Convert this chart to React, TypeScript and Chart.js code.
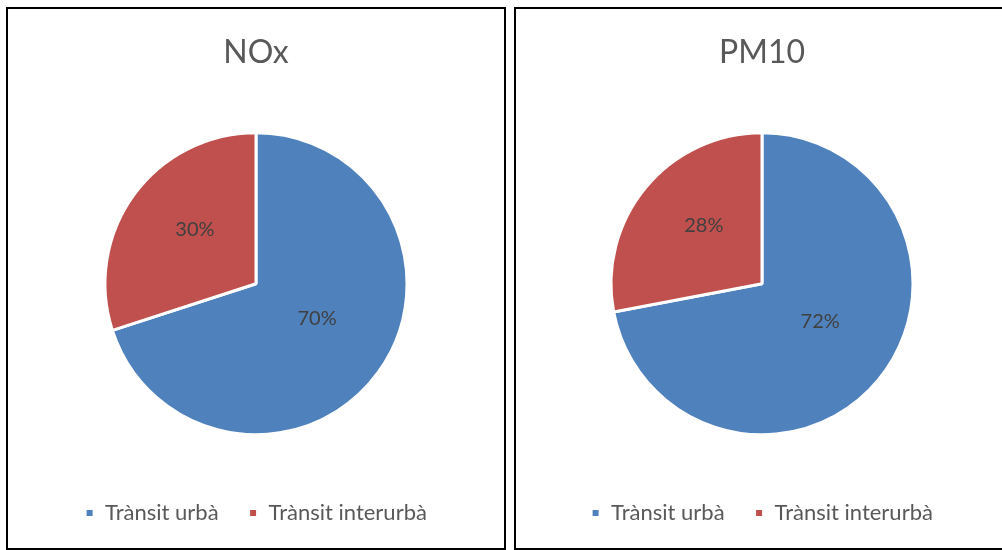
import React, { useEffect, useRef } from "react";
import { Chart, registerables } from "chart.js";

Chart.register(...registerables);

const categories = ["Trànsit urbà", "Trànsit interurbà"];
const noxValues = [70, 30];
const pm10Values = [72, 28];
const titles = ["NOx", "PM10"];
const colors = ["#4F81BD", "#C0504D"];

const FONT = "Lato, 'Noto Sans', sans-serif";

const labelPlugin = {
  id: "pieLabels",
  afterDatasetsDraw(chart: any) {
    const ctx = chart.ctx;
    const meta = chart.getDatasetMeta(0);
    const data = chart.data.datasets[0].data as number[];
    const total = data.reduce((a, b) => a + b, 0);
    ctx.save();
    ctx.font = `20px ${FONT}`;
    ctx.fillStyle = "#404040";
    ctx.textAlign = "center";
    ctx.textBaseline = "middle";
    meta.data.forEach((arc: any, i: number) => {
      const p = arc.getProps(["x", "y", "startAngle", "endAngle", "outerRadius"], true);
      const mid = (p.startAngle + p.endAngle) / 2;
      const r = p.outerRadius * 0.5;
      const x = p.x + Math.cos(mid) * r;
      const y = p.y + Math.sin(mid) * r - 10;
      ctx.fillText(Math.round((data[i] / total) * 100) + "%", x, y);
    });
    ctx.restore();
  },
};

function PieChart({ title, values }: { title: string; values: number[] }) {
  const ref = useRef<HTMLCanvasElement>(null);
  useEffect(() => {
    if (!ref.current) return;
    const chart = new Chart(ref.current, {
      type: "pie",
      data: {
        labels: categories,
        datasets: [
          {
            data: values,
            backgroundColor: colors,
            borderColor: "#ffffff",
            borderWidth: 3,
            radius: 151,
          },
        ],
      },
      options: {
        responsive: true,
        maintainAspectRatio: false,
        animation: false,
        layout: { padding: { top: 0, bottom: 14 } },
        plugins: {
          title: {
            display: true,
            text: title,
            color: "#595959",
            font: { family: FONT, size: 32, weight: "normal" },
            padding: { top: 24, bottom: 24 },
          },
          legend: {
            display: true,
            position: "bottom",
            labels: {
              color: "#595959",
              font: { family: FONT, size: 22 },
              boxWidth: 9,
              boxHeight: 9,
              padding: 30,
            },
          },
          tooltip: { enabled: false },
        },
      },
      plugins: [labelPlugin],
    });
    return () => chart.destroy();
  }, [title, values]);
  return <canvas ref={ref} />;
}

export default function App() {
  const panel: React.CSSProperties = {
    position: "absolute",
    top: 7,
    height: 539,
    border: "2px solid #000",
    background: "#fff",
  };
  return (
    <div
      style={{
        position: "fixed",
        left: 0,
        top: 0,
        width: 1002,
        height: 550,
        overflow: "hidden",
        background: "#fff",
      }}
    >
      <div style={{ ...panel, left: 6, width: 496 }}>
        <PieChart title={titles[0]} values={noxValues} />
      </div>
      <div style={{ ...panel, left: 514, width: 492 }}>
        <PieChart title={titles[1]} values={pm10Values} />
      </div>
    </div>
  );
}
